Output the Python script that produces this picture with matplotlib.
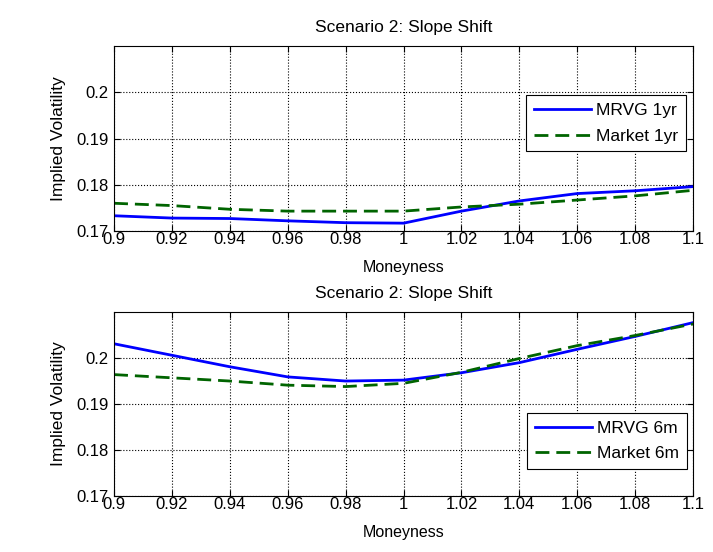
import matplotlib
matplotlib.use("Agg")
import matplotlib.pyplot as plt

plt.rcParams['font.family'] = ['Liberation Sans', 'DejaVu Sans']

moneyness = [0.90, 0.92, 0.94, 0.96, 0.98, 1.00, 1.02, 1.04, 1.06, 1.08, 1.10]
mrvg_1yr = [0.1733, 0.1728, 0.1727, 0.1722, 0.1718, 0.1717, 0.1743, 0.1765, 0.1781, 0.1787, 0.1796]
market_1yr = [0.1760, 0.1755, 0.1747, 0.1743, 0.1743, 0.1743, 0.1752, 0.1758, 0.1767, 0.1776, 0.1788]
mrvg_6m = [0.2031, 0.2006, 0.1981, 0.1959, 0.1950, 0.1952, 0.1968, 0.1990, 0.2019, 0.2047, 0.2077]
market_6m = [0.1964, 0.1957, 0.1950, 0.1941, 0.1938, 0.1945, 0.1969, 0.1999, 0.2027, 0.2049, 0.2074]

xticks = [0.9, 0.92, 0.94, 0.96, 0.98, 1.0, 1.02, 1.04, 1.06, 1.08, 1.1]
xticklabels = ['0.9', '0.92', '0.94', '0.96', '0.98', '1', '1.02', '1.04', '1.06', '1.08', '1.1']
yticks = [0.17, 0.18, 0.19, 0.2]
yticklabels = ['0.17', '0.18', '0.19', '0.2']

fig = plt.figure(figsize=(7.13, 5.52), dpi=100)
ax1 = fig.add_axes([0.160, 0.5815, 0.812, 0.3351])
ax2 = fig.add_axes([0.160, 0.1014, 0.812, 0.3333])

panels = [
    (ax1, mrvg_1yr, market_1yr, 'MRVG 1yr', 'Market 1yr', 'upper right', (0.988, 0.735)),
    (ax2, mrvg_6m, market_6m, 'MRVG 6m', 'Market 6m', 'lower right', (0.99, 0.147)),
]

FS = 12
for ax, m, mk, l1, l2, loc, anchor in panels:
    ax.plot(moneyness, m, color='#0000ff', lw=2, label=l1)
    ax.plot(moneyness, mk, color='#006400', lw=2, ls=(0, (5, 2.5)), label=l2)
    ax.set_xlim(0.9, 1.1)
    ax.set_ylim(0.17, 0.21)
    ax.set_xticks(xticks)
    ax.set_xticklabels(xticklabels)
    ax.set_yticks(yticks)
    ax.set_yticklabels(yticklabels)
    ax.tick_params(axis='both', direction='in', labelsize=FS, length=4, top=True, right=True)
    ax.tick_params(axis='x', pad=1)
    ax.tick_params(axis='y', pad=4)
    ax.grid(True, color='black', ls=':', lw=0.8)
    ax.set_title('Scenario 2: Slope Shift', fontsize=12.5, pad=10)
    ax.set_xlabel('Moneyness', fontsize=11.5, labelpad=9)
    ax.set_ylabel('Implied Volatility', fontsize=12.5, labelpad=7)
    leg = ax.legend(loc=loc, bbox_to_anchor=anchor, fontsize=12.5, frameon=True,
                    fancybox=False, edgecolor='black', framealpha=1,
                    handlelength=3.3, borderaxespad=0, handletextpad=0.3,
                    labelspacing=0.6, borderpad=0.45)
    leg.get_frame().set_linewidth(0.8)

fig.savefig('out.png', dpi=100)
